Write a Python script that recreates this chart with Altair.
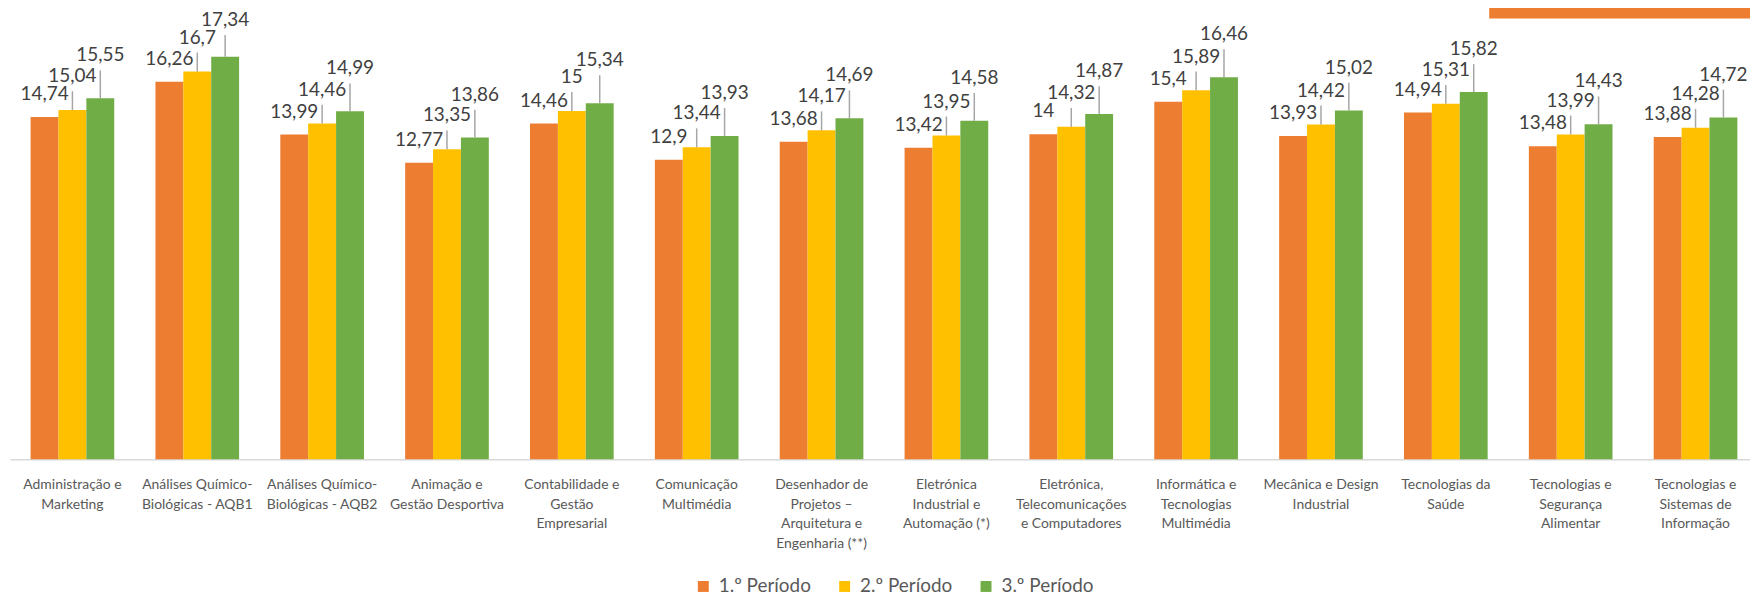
import altair as alt
import pandas as pd

# Categories (label lines separated by "|")
cursos = [
    "Administração e|Marketing",
    "Análises Químico-|Biológicas - AQB1",
    "Análises Químico-|Biológicas - AQB2",
    "Animação e|Gestão Desportiva",
    "Contabilidade e|Gestão|Empresarial",
    "Comunicação|Multimédia",
    "Desenhador de|Projetos –|Arquitetura e|Engenharia (**)",
    "Eletrónica|Industrial e|Automação (*)",
    "Eletrónica,|Telecomunicações|e Computadores",
    "Informática e|Tecnologias|Multimédia",
    "Mecânica e Design|Industrial",
    "Tecnologias da|Saúde",
    "Tecnologias e|Segurança|Alimentar",
    "Tecnologias e|Sistemas de|Informação",
]
periodos = ["1.º Período", "2.º Período", "3.º Período"]
p1 = [14.74, 16.26, 13.99, 12.77, 14.46, 12.9, 13.68, 13.42, 14, 15.4, 13.93, 14.94, 13.48, 13.88]
p2 = [15.04, 16.7, 14.46, 13.35, 15, 13.44, 14.17, 13.95, 14.32, 15.89, 14.42, 15.31, 13.99, 14.28]
p3 = [15.55, 17.34, 14.99, 13.86, 15.34, 13.93, 14.69, 14.58, 14.87, 16.46, 15.02, 15.82, 14.43, 14.72]
cores = ["#ED7D31", "#FFC000", "#70AD47"]

rows = []
for serie, vals in zip(periodos, [p1, p2, p3]):
    for c, v in zip(cursos, vals):
        rows.append({"curso": c, "periodo": serie, "valor": v,
                     "rotulo": f"{v:g}".replace(".", ",")})
df = pd.DataFrame(rows)

FONT = "Lato"
H = 452
YMAX = 19.38
PX = H / YMAX  # pixels per unit

xscale = alt.Scale(domain=cursos, paddingInner=0.33, paddingOuter=0.165)
xoff = alt.Scale(domain=periodos, paddingInner=0, paddingOuter=0)
yscale = alt.Scale(domain=[0, YMAX], nice=False, zero=True)

x_enc = alt.X("curso:N", scale=xscale, sort=cursos,
              axis=alt.Axis(title=None, labelExpr="split(datum.value, '|')",
                            labelAngle=0, labelFont=FONT, labelFontSize=14,
                            labelColor="#595959", labelLineHeight=20,
                            labelPadding=18, labelBaseline="top", ticks=False,
                            domainColor="#D9D9D9", domainWidth=1.5,
                            labelLimit=200))
xo_enc = alt.XOffset("periodo:N", scale=xoff, sort=periodos)
y_enc = alt.Y("valor:Q", scale=yscale, axis=None)

base = alt.Chart(df)

bars = base.mark_bar().encode(
    x=x_enc, xOffset=xo_enc, y=y_enc,
    color=alt.Color("periodo:N", scale=alt.Scale(domain=periodos, range=cores),
                    legend=alt.Legend(title=None, orient="none", direction="horizontal",
                                      legendX=687, legendY=570,
                                      symbolType="square", symbolSize=121,
                                      symbolStrokeWidth=0, symbolOpacity=1,
                                      labelFont=FONT, labelFontSize=19,
                                      labelColor="#595959", labelOffset=6,
                                      columnPadding=24)),
)

offsets = {"1.º Período": 23, "2.º Período": 34, "3.º Período": 43}
ytop = YMAX - 10.7 / PX
layers = [bars]
for serie in periodos:
    off = offsets[serie]
    sub = base.transform_filter(alt.datum.periodo == serie).transform_calculate(
        ylab=f"min(datum.valor + {off / PX}, {ytop})")
    ylab_enc = alt.Y("ylab:Q", scale=yscale, axis=None)
    if off >= 30:
        layers.append(sub.mark_rule(color="#A6A6A6", strokeWidth=1.5, y2Offset=15).encode(
            x=x_enc, xOffset=xo_enc, y=y_enc, y2=alt.Y2("ylab:Q")))
    layers.append(sub.mark_text(font=FONT, fontSize=19, color="#404040",
                                baseline="middle").encode(
        x=x_enc, xOffset=xo_enc, y=ylab_enc, text="rotulo:N"))

caixa = alt.Chart(pd.DataFrame({"k": [0]})).mark_rect(color="#ED7D31").encode(
    x=alt.value(1486), x2=alt.value(1800), y=alt.value(-20), y2=alt.value(9.3))
layers.append(caixa)

chart = alt.layer(*layers).properties(
    width=1756, height=H,
    autosize=alt.AutoSizeParams(type="none"),
    padding={"left": 2, "top": 0, "right": -8, "bottom": 138},
).configure_view(stroke=None)

chart.save("out.html", embed_options={"renderer": "svg", "actions": False})
